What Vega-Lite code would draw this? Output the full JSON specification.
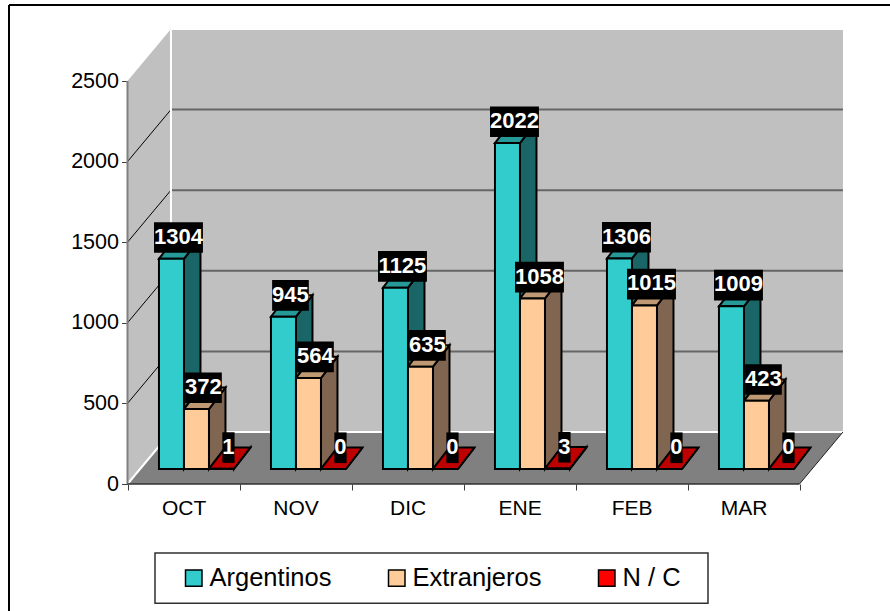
{
"$schema":"https://vega.github.io/schema/vega-lite/v6.json",
"width":890,"height":611,"padding":0,"autosize":{"type":"none"},"background":"white",
"config":{"view":{"stroke":null},"font":"Liberation Sans"},
"datasets":{
"one":[{}],
"ends":[{"tt":0},{"tt":1}],
"grid":[{"v":500},{"v":1000},{"v":1500},{"v":2000}],
"meses":[{"mes":"OCT","m":0},{"mes":"NOV","m":1},{"mes":"DIC","m":2},{"mes":"ENE","m":3},{"mes":"FEB","m":4},{"mes":"MAR","m":5}],
"filas":[
{"mes":"OCT","serie":"Argentinos","valor":1304},{"mes":"OCT","serie":"Extranjeros","valor":372},{"mes":"OCT","serie":"N / C","valor":1},
{"mes":"NOV","serie":"Argentinos","valor":945},{"mes":"NOV","serie":"Extranjeros","valor":564},{"mes":"NOV","serie":"N / C","valor":0},
{"mes":"DIC","serie":"Argentinos","valor":1125},{"mes":"DIC","serie":"Extranjeros","valor":635},{"mes":"DIC","serie":"N / C","valor":0},
{"mes":"ENE","serie":"Argentinos","valor":2022},{"mes":"ENE","serie":"Extranjeros","valor":1058},{"mes":"ENE","serie":"N / C","valor":3},
{"mes":"FEB","serie":"Argentinos","valor":1306},{"mes":"FEB","serie":"Extranjeros","valor":1015},{"mes":"FEB","serie":"N / C","valor":0},
{"mes":"MAR","serie":"Argentinos","valor":1009},{"mes":"MAR","serie":"Extranjeros","valor":423},{"mes":"MAR","serie":"N / C","valor":0}
]},
"data":{"name":"filas"},
"transform":[
{"calculate":"indexof(['OCT','NOV','DIC','ENE','FEB','MAR'],datum.mes)","as":"m"},
{"calculate":"indexof(['Argentinos','Extranjeros','N / C'],datum.serie)","as":"s"},
{"calculate":"datum.m+0.281+0.2232*datum.s","as":"x0"},
{"calculate":"datum.x0+0.2232","as":"x1"},
{"calculate":"93+datum.valor","as":"tope"},
{"calculate":"datum.mes+datum.serie","as":"clave"}
],
"resolve":{"scale":{"fill":"independent"},"axis":{"x":"independent","y":"independent"}},
"layer":[
{"data":{"name":"one"},"mark":{"type":"rect","fill":"#C0C0C0"},
 "encoding":{
  "x":{"datum":0.388,"type":"quantitative","scale":{"domain":[-1.1384,6.808],"nice":false,"zero":false},
   "axis":{"title":null,"offset":-127,"values":[0,1,2,3,4,5,6],"labels":false,"grid":false,"domain":false,"tickColor":"#404040","tickSize":6,"tickWidth":1}},
  "x2":{"datum":6.388},
  "y":{"datum":322.6,"type":"quantitative","scale":{"domain":[-787.8,3002.5],"nice":false,"zero":false},
   "axis":{"title":null,"offset":-127.5,"values":[0,500,1000,1500,2000,2500],"format":"d","grid":false,"domain":false,"tickColor":"#404040","tickSize":6,"tickWidth":1,"labelFont":"Liberation Sans","labelFontSize":21.5,"labelColor":"black","labelPadding":3}},
  "y2":{"datum":2816}}},
{"data":{"name":"ends"},"transform":[{"calculate":"0.388*datum.tt","as":"wx"},{"calculate":"322.6*datum.tt","as":"wy"},{"calculate":"2500+322.6*datum.tt","as":"wy2"}],
 "mark":{"type":"area","orient":"vertical","fill":"#C0C0C0"},
 "encoding":{"x":{"field":"wx","type":"quantitative","axis":null},"y":{"field":"wy","type":"quantitative","axis":null},"y2":{"field":"wy2"}}},
{"data":{"name":"ends"},"transform":[{"calculate":"0.388*datum.tt","as":"fx"},{"calculate":"6+0.388*datum.tt","as":"fx2"},{"calculate":"322.6*datum.tt","as":"fy"}],
 "mark":{"type":"area","orient":"horizontal","fill":"#808080"},
 "encoding":{"y":{"field":"fy","type":"quantitative","axis":null},"x":{"field":"fx","type":"quantitative","axis":null},"x2":{"field":"fx2"}}},
{"data":{"name":"grid"},"transform":[{"calculate":"datum.v+322.6","as":"v2"}],
 "mark":{"type":"rule","stroke":"black","strokeWidth":1},
 "encoding":{"x":{"datum":0,"type":"quantitative","axis":null},"x2":{"datum":0.388},"y":{"field":"v","type":"quantitative","axis":null},"y2":{"field":"v2"}}},
{"data":{"name":"grid"},"transform":[{"calculate":"datum.v+322.6","as":"v2"}],
 "mark":{"type":"rule","stroke":"#666666","strokeWidth":2},
 "encoding":{"x":{"datum":0.388,"type":"quantitative","axis":null},"x2":{"datum":6.388},"y":{"field":"v2","type":"quantitative","axis":null}}},
{"data":{"name":"one"},"mark":{"type":"rule","stroke":"white","strokeWidth":2},
 "encoding":{"x":{"datum":0.388,"type":"quantitative","axis":null},"y":{"datum":322.6,"type":"quantitative","axis":null},"y2":{"datum":2816}}},
{"data":{"name":"one"},"mark":{"type":"rule","stroke":"white","strokeWidth":2},
 "encoding":{"x":{"datum":0.388,"type":"quantitative","axis":null},"x2":{"datum":6.388},"y":{"datum":322.6,"type":"quantitative","axis":null}}},
{"data":{"name":"one"},"mark":{"type":"rule","stroke":"white","strokeWidth":2},
 "encoding":{"x":{"datum":0,"type":"quantitative","axis":null},"x2":{"datum":0.388},"y":{"datum":0,"type":"quantitative","axis":null},"y2":{"datum":322.6}}},
{"data":{"name":"one"},"mark":{"type":"rule","stroke":"#202020","strokeWidth":1},
 "encoding":{"x":{"datum":6,"type":"quantitative","axis":null},"x2":{"datum":6.388},"y":{"datum":0,"type":"quantitative","axis":null},"y2":{"datum":322.6}}},
{"data":{"name":"one"},"mark":{"type":"rule","stroke":"#808080","strokeWidth":2},
 "encoding":{"x":{"datum":0,"type":"quantitative","axis":null},"y":{"datum":0,"type":"quantitative","axis":null},"y2":{"datum":2500}}},
{"data":{"name":"one"},"mark":{"type":"rule","stroke":"#303030","strokeWidth":1.5},
 "encoding":{"x":{"datum":0,"type":"quantitative","axis":null},"x2":{"datum":6},"y":{"datum":0,"type":"quantitative","axis":null}}},
{"data":{"name":"one"},"mark":{"type":"rule","stroke":"black","strokeWidth":2},
 "encoding":{"x":{"datum":-1.058,"type":"quantitative","axis":null},"y":{"datum":-788,"type":"quantitative","axis":null},"y2":{"datum":2971}}},
{"data":{"name":"one"},"mark":{"type":"rule","stroke":"black","strokeWidth":2},
 "encoding":{"x":{"datum":-1.058,"type":"quantitative","axis":null},"x2":{"datum":6.808},"y":{"datum":2971,"type":"quantitative","axis":null}}},
{"transform":[{"calculate":"[0,1]","as":"tt"},{"flatten":["tt"]},{"calculate":"datum.x1+0.1473*datum.tt","as":"sx"},{"calculate":"93+133*datum.tt","as":"sy"},{"calculate":"datum.tope+133*datum.tt","as":"sy2"}],
 "mark":{"type":"area","orient":"vertical","stroke":"black","strokeWidth":2},
 "encoding":{"detail":{"field":"clave"},"x":{"field":"sx","type":"quantitative","axis":null},"y":{"field":"sy","type":"quantitative","axis":null},"y2":{"field":"sy2"},
  "fill":{"field":"serie","type":"nominal","legend":null,"scale":{"domain":["Argentinos","Extranjeros","N / C"],"range":["#1A6666","#806650","#800000"]}}}},
{"transform":[{"calculate":"[0,1]","as":"tt"},{"flatten":["tt"]},{"calculate":"datum.x0+0.1473*datum.tt","as":"tx"},{"calculate":"datum.x1+0.1473*datum.tt","as":"tx2"},{"calculate":"datum.tope+133*datum.tt","as":"ty"}],
 "mark":{"type":"area","orient":"horizontal","stroke":"black","strokeWidth":2},
 "encoding":{"detail":{"field":"clave"},"y":{"field":"ty","type":"quantitative","axis":null},"x":{"field":"tx","type":"quantitative","axis":null},"x2":{"field":"tx2"},
  "fill":{"field":"serie","type":"nominal","legend":null,"scale":{"domain":["Argentinos","Extranjeros","N / C"],"range":["#269999","#BF9973","#BF0000"]}}}},
{"data":{"name":"one"},"mark":{"type":"rect","fill":"white","stroke":"#303030","strokeWidth":1.5},
 "encoding":{"x":{"datum":0.2455,"type":"quantitative","axis":null},"x2":{"datum":5.183},"y":{"datum":-428,"type":"quantitative","axis":null},"y2":{"datum":-739.5}}},
{"mark":{"type":"rect","stroke":"black","strokeWidth":2},
 "encoding":{"x":{"field":"x0","type":"quantitative","axis":null},"x2":{"field":"x1"},"y":{"field":"tope","type":"quantitative","axis":null},"y2":{"datum":93},
  "fill":{"field":"serie","type":"nominal","scale":{"domain":["Argentinos","Extranjeros","N / C"],"range":["#33CCCC","#FFCC99","#FF0000"]},
   "legend":{"orient":"none","legendX":181,"legendY":565,"direction":"horizontal","columns":3,"title":null,"symbolType":"square","symbolSize":272,"symbolStrokeColor":"black","symbolStrokeWidth":1.5,"labelFont":"Liberation Sans","labelFontSize":25.5,"labelColor":"black","columnPadding":52,"labelOffset":3,"labelLimit":300,"padding":0}}}},
{"transform":[{"calculate":"(datum.x0+datum.x1)/2+0.0625","as":"xc"},{"calculate":"0.0546*length(''+datum.valor)","as":"hw"},{"calculate":"datum.xc-datum.hw","as":"bx"},{"calculate":"datum.xc+datum.hw","as":"bx2"},{"calculate":"datum.tope+37","as":"by"},{"calculate":"datum.tope+227","as":"by2"}],
 "mark":{"type":"rect","fill":"black"},
 "encoding":{"x":{"field":"bx","type":"quantitative","axis":null},"x2":{"field":"bx2"},"y":{"field":"by","type":"quantitative","axis":null},"y2":{"field":"by2"}}},
{"transform":[{"calculate":"(datum.x0+datum.x1)/2+0.0625","as":"xc"},{"calculate":"datum.tope+136","as":"ly"}],
 "mark":{"type":"text","color":"white","font":"Liberation Sans","fontWeight":"bold","fontSize":22,"align":"center","baseline":"middle"},
 "encoding":{"x":{"field":"xc","type":"quantitative","axis":null},"y":{"field":"ly","type":"quantitative","axis":null},"text":{"field":"valor","type":"quantitative"}}},
{"data":{"name":"meses"},"transform":[{"calculate":"datum.m+0.505","as":"mx"}],
 "mark":{"type":"text","color":"black","font":"Liberation Sans","fontSize":21,"align":"center","baseline":"middle"},
 "encoding":{"x":{"field":"mx","type":"quantitative","axis":null},"y":{"datum":-158,"type":"quantitative","axis":null},"text":{"field":"mes"}}}
]}
